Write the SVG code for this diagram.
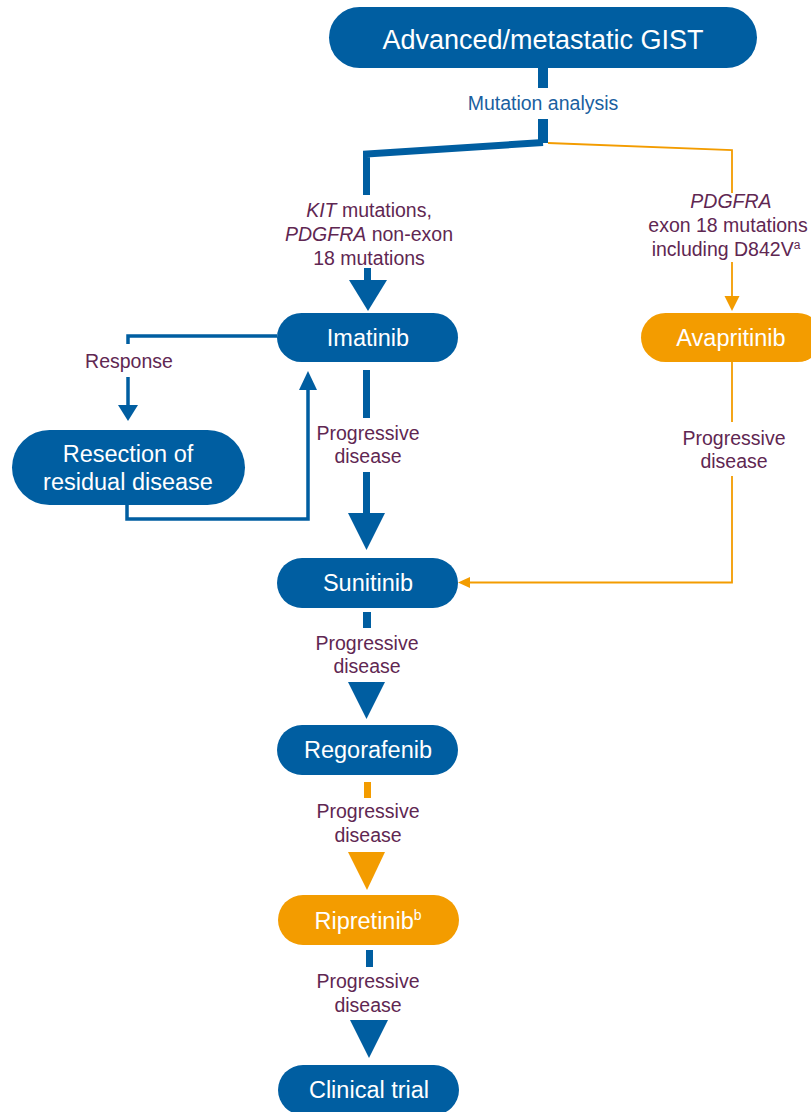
<svg xmlns="http://www.w3.org/2000/svg" width="811" height="1112" viewBox="0 0 811 1112">
<style>
.nb{fill:#005EA1}
.no{fill:#F39C00}
.nt{font-family:"Liberation Sans",Arial,sans-serif;font-size:23.5px;fill:#fff;text-anchor:middle}
.lb{font-family:"Liberation Sans",Arial,sans-serif;font-size:19.5px;fill:#5F2752;text-anchor:middle}
.bl{fill:#005EA1}
.or{fill:#F39C00}
.bs{fill:none;stroke:#005EA1}
.os{fill:none;stroke:#F39C00;stroke-width:1.8}
</style>
<rect width="811" height="1112" fill="#fff"/>
<g id="connectors">
  <rect class="bl" x="538" y="68" width="10" height="20"/>
  <text x="543" y="110" class="lb" style="fill:#1A5FA0">Mutation analysis</text>
  <rect class="bl" x="538" y="119" width="10" height="24"/>
  <path class="bs" d="M366.5,195 V154 L543,142.5" stroke-width="7" stroke-linejoin="miter"/>
  <polyline class="os" points="548,143 732,150 732,193"/>
  <text class="lb"><tspan x="369" y="217"><tspan font-style="italic">KIT</tspan> mutations,</tspan><tspan x="369" y="241"><tspan font-style="italic">PDGFRA</tspan> non-exon</tspan><tspan x="369" y="265">18 mutations</tspan></text>
  <rect class="bl" x="364" y="268" width="7" height="13"/>
  <polygon class="bl" points="349,280 387,280 368,311"/>
  <text class="lb"><tspan x="731" y="208" font-style="italic">PDGFRA</tspan><tspan x="728" y="232">exon 18 mutations</tspan><tspan x="726" y="256">including D842V<tspan font-size="12" dy="-7">a</tspan></tspan></text>
  <line class="os" x1="732" y1="262" x2="732" y2="298"/>
  <polygon class="or" points="724.5,296 739.5,296 732,311"/>
  <path class="bs" d="M277,336 H128 V344" stroke-width="3.5"/>
  <text x="129" y="368" class="lb">Response</text>
  <path class="bs" d="M128,377 V407" stroke-width="3.5"/>
  <polygon class="bl" points="118,405 138,405 128,421"/>
  <path class="bs" d="M127,505 V519 H308 V388" stroke-width="3.5"/>
  <polygon class="bl" points="299,390 317,390 308,371"/>
  <rect class="bl" x="363" y="370" width="7" height="48"/>
  <text class="lb"><tspan x="368" y="440">Progressive</tspan><tspan x="368" y="463">disease</tspan></text>
  <rect class="bl" x="363" y="472" width="7" height="42"/>
  <polygon class="bl" points="348,513 385,513 366.5,550"/>
  <line class="os" x1="732" y1="362" x2="732" y2="422"/>
  <text class="lb"><tspan x="734" y="445">Progressive</tspan><tspan x="734" y="468">disease</tspan></text>
  <path class="os" d="M732,476 V582.5 H468"/>
  <polygon class="or" points="458,582.5 470,577 470,588"/>
  <rect class="bl" x="363" y="612" width="8" height="16"/>
  <text class="lb"><tspan x="367" y="650">Progressive</tspan><tspan x="367" y="673">disease</tspan></text>
  <polygon class="bl" points="348,682 385,682 366.5,719"/>
  <rect class="or" x="364" y="782" width="7" height="16"/>
  <text class="lb"><tspan x="368" y="818">Progressive</tspan><tspan x="368" y="842">disease</tspan></text>
  <polygon class="or" points="348,852 385,852 367,890"/>
  <rect class="bl" x="366" y="950" width="7" height="17"/>
  <text class="lb"><tspan x="368" y="988">Progressive</tspan><tspan x="368" y="1012">disease</tspan></text>
  <polygon class="bl" points="350,1020 388,1020 369,1058"/>
</g>
<g id="node-gist">
  <rect class="nb" x="329" y="7" width="428" height="61" rx="30.5"/>
  <text x="543" y="49" class="nt" style="font-size:27px">Advanced/metastatic GIST</text>
</g>
<g id="node-imatinib">
  <rect class="nb" x="277" y="313" width="181" height="49" rx="24.5"/>
  <text x="368" y="346" class="nt">Imatinib</text>
</g>
<g id="node-avapritinib">
  <rect class="no" x="641" y="313" width="181" height="49" rx="24.5"/>
  <text x="731" y="346" class="nt">Avapritinib</text>
</g>
<g id="node-resection">
  <rect class="nb" x="12" y="430" width="233" height="75" rx="37.5"/>
  <text class="nt"><tspan x="128" y="462">Resection of</tspan><tspan x="128" y="490">residual disease</tspan></text>
</g>
<g id="node-sunitinib">
  <rect class="nb" x="277" y="558" width="181" height="50" rx="25"/>
  <text x="368" y="591" class="nt">Sunitinib</text>
</g>
<g id="node-regorafenib">
  <rect class="nb" x="277" y="725" width="181" height="50" rx="25"/>
  <text x="368" y="758" class="nt">Regorafenib</text>
</g>
<g id="node-ripretinib">
  <rect class="no" x="278" y="895" width="181" height="50" rx="25"/>
  <text x="368" y="929" class="nt">Ripretinib<tspan font-size="14" dy="-9">b</tspan></text>
</g>
<g id="node-clinical">
  <rect class="nb" x="278" y="1065" width="181" height="50" rx="25"/>
  <text x="369" y="1098" class="nt">Clinical trial</text>
</g>
</svg>
